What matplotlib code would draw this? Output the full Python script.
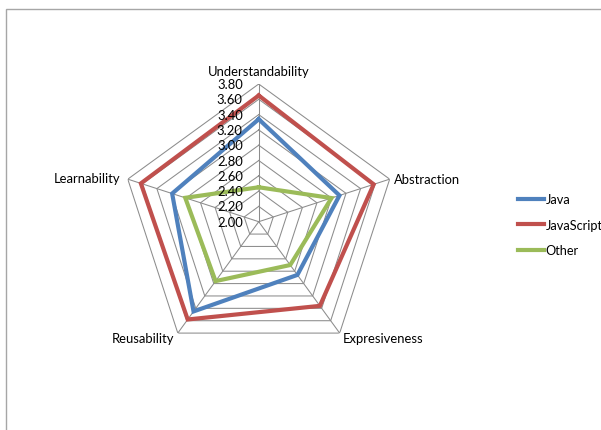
import numpy as np
import matplotlib
matplotlib.use("Agg")
import matplotlib.pyplot as plt
from matplotlib.patches import Rectangle

categories = ["Understandability", "Abstraction", "Expresiveness", "Reusability", "Learnability"]
java = [3.34, 3.11, 2.86, 3.45, 3.19]
javascript = [3.65, 3.58, 3.36, 3.58, 3.62]
other = [2.45, 3.00, 2.70, 2.96, 3.01]
series_names = ["Java", "JavaScript", "Other"]
series_colors = ["#4F81BD", "#C0504D", "#9BBB59"]
ring_values = [2.00, 2.20, 2.40, 2.60, 2.80, 3.00, 3.20, 3.40, 3.60, 3.80]
ring_labels = ["%.2f" % v for v in ring_values]

plt.rcParams['font.family'] = ['Lato', 'DejaVu Sans']
FS = 9.4

fig = plt.figure(figsize=(6.01, 4.31), dpi=100)
fig.patch.set_facecolor("white")

# chart-area border (clipped at right and bottom like the reference)
fig.patches.append(Rectangle((5.7 / 601, -0.2), 1.2, 1.2 - 9.5 / 431,
                             transform=fig.transFigure, fill=False,
                             edgecolor="#A6A6A6", linewidth=1.0))

ax = fig.add_axes([0.2014, 0.1638, 0.4582, 0.639], projection="polar")
ax.set_theta_offset(np.pi / 2)
ax.set_theta_direction(-1)
ax.set_ylim(ring_values[0], ring_values[-1])
ax.grid(False)
ax.spines['polar'].set_visible(False)
ax.set_xticks([])
ax.set_yticks([])
ax.patch.set_visible(False)

n = len(categories)
theta = np.linspace(0, 2 * np.pi, n, endpoint=False)
theta_c = np.append(theta, theta[0])

grid_color = "#8C8C8C"
for v in ring_values[1:]:
    ax.plot(theta_c, [v] * (n + 1), color=grid_color, lw=0.75, zorder=1)
for t in theta:
    ax.plot([t, t], [ring_values[0], ring_values[-1]], color=grid_color, lw=0.75, zorder=1)

for name, vals, col in zip(series_names, [java, javascript, other], series_colors):
    ax.plot(theta_c, vals + vals[:1], color=col, lw=3.0, label=name, zorder=3,
            solid_joinstyle="miter")

# radial labels
for v, lab in zip(ring_values, ring_labels):
    ax.annotate(lab, xy=(0, v), xytext=(-11.5, 0), textcoords="offset points",
                ha="right", va="center", fontsize=FS, annotation_clip=False, zorder=4)

# category labels
offsets = [((0, 5), "center", "bottom"),
           ((3, 0), "left", "center"),
           ((2.5, -3.5), "left", "center"),
           ((-2.5, -3.5), "right", "center"),
           ((-5, 1.0), "right", "center")]
for t, lab, (off, ha, va) in zip(theta, categories, offsets):
    ax.annotate(lab, xy=(t, ring_values[-1]), xytext=off, textcoords="offset points",
                ha=ha, va=va, fontsize=FS, annotation_clip=False)

leg = fig.legend(loc="upper left", bbox_to_anchor=(0.862, 0.549), frameon=False,
                 fontsize=9.2, handlelength=2.05, handletextpad=0.1, labelspacing=1.05,
                 borderaxespad=0, borderpad=0)

fig.savefig("out.png", dpi=100, facecolor="white")
